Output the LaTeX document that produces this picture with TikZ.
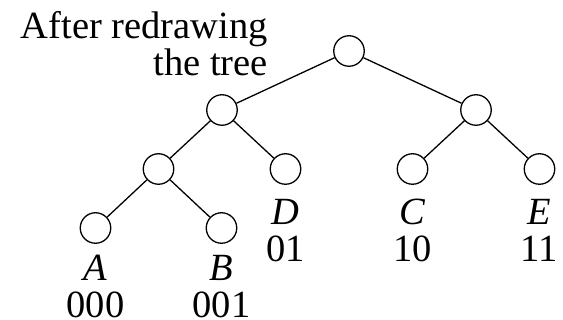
\documentclass[tikz,border=0pt]{standalone}
\usepackage{fontspec}
\setmainfont{Liberation Serif}
\usetikzlibrary{positioning}

\begin{document}
\begin{tikzpicture}[x=1pt, y=-1pt,
  vertex/.style={circle, draw, line width=1.3pt, minimum size=30.5pt, inner sep=0pt},
  codelabel/.style={align=center, inner sep=0pt, font=\fontsize{38.5}{37}\selectfont},
  level distance=59pt,
  level 1/.style={sibling distance=254pt},
  level 2/.style={sibling distance=127pt},
  level 3/.style={sibling distance=126pt},
  edge from parent/.style={draw, line width=1.3pt}
]
\useasboundingbox (0,0) rectangle (563,320);

\node[codelabel, align=right, anchor=north east] (title) at (268,11) {After redrawing\\the tree};

\node[vertex] (root) at (349,51) {}
  child { node[vertex] (n0) {}
    child { node[vertex] (n00) {}
      child { node[vertex] (a) {} }
      child { node[vertex] (b) {} } }
    child { node[vertex] (d) {} } }
  child { node[vertex] (n1) {}
    child { node[vertex] (c) {} }
    child { node[vertex] (e) {} } };

% symbols and their codes under the leaves
\node[codelabel, below=11pt of a] (labA) {\textit{A}\\000};
\node[codelabel, below=11pt of b] (labB) {\textit{B}\\001};
\node[codelabel, below=14pt of d] (labD) {\textit{D}\\01};
\node[codelabel, below=14pt of c] (labC) {\textit{C}\\10};
\node[codelabel, below=14pt of e] (labE) {\textit{E}\\11};

\end{tikzpicture}
\end{document}
